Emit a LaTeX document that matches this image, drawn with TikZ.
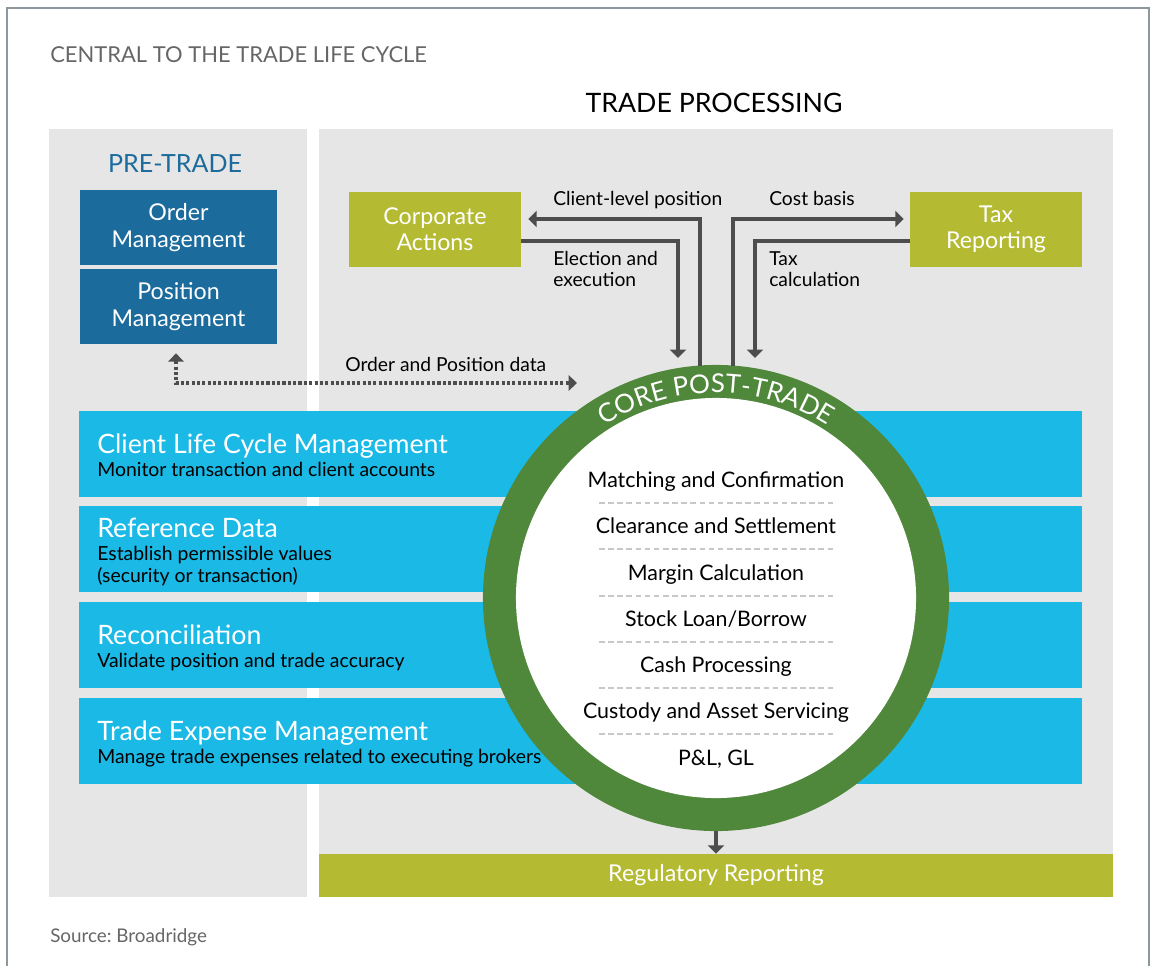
\documentclass[tikz,border=0pt]{standalone}
\usepackage{fontspec}
\setmainfont{Lato}
\usetikzlibrary{arrows.meta,decorations.text}

\definecolor{panelgray}{HTML}{E6E6E6}
\definecolor{preblue}{HTML}{1B6B9C}
\definecolor{olivegreen}{HTML}{B5BA33}
\definecolor{barblue}{HTML}{1BB9E6}
\definecolor{ringgreen}{HTML}{4F873B}
\definecolor{arrowgray}{HTML}{4D4D4D}
\definecolor{titlegray}{HTML}{666666}
\definecolor{framegray}{HTML}{8E979C}
\definecolor{sepgray}{HTML}{C8C8C8}

\tikzset{
  bluebox/.style={fill=preblue, text=white, inner sep=0, minimum width=4.925cm, minimum height=1.875cm,
    align=center, font=\fontsize{16.5}{19}\selectfont},
  olivebox/.style={fill=olivegreen, text=white, inner sep=0, minimum width=4.3cm, minimum height=1.875cm,
    align=center, font=\fontsize{16.5}{18.5}\selectfont},
  barhead/.style={anchor=base west, text=white, inner sep=0, font=\fontsize{19}{22}\selectfont},
  barsub/.style={anchor=base west, text=black, inner sep=0, align=left, font=\fontsize{13.8}{15}\selectfont},
  item/.style={anchor=base, inner sep=0, font=\fontsize{15.2}{17}\selectfont},
  label/.style={anchor=base west, inner sep=0, align=left, font=\fontsize{13.7}{15}\selectfont},
  flow/.style={draw=arrowgray, line width=2.85pt, -{Triangle[length=6pt,width=11.5pt]}},
  dataflow/.style={draw=arrowgray, line width=2.4pt, dash pattern=on 2.2pt off 1.6pt,
    {Triangle[length=6pt,width=11pt]}-{Triangle[length=6pt,width=11pt]}},
  sep/.style={draw=sepgray, line width=1.2pt, dash pattern=on 4pt off 2.5pt}
}

\begin{document}
\frenchspacing
\begin{tikzpicture}[x=0.025cm, y=-0.025cm]
    \useasboundingbox (0,0) rectangle (1152,966);
    \draw[framegray, line width=1.4pt] (7,966) -- (7,8) -- (1149,8) -- (1149,966);

    % backgrounds
    \fill[panelgray] (49,129) rectangle (307,897);
    \fill[panelgray] (319,129) rectangle (1113,854);
    \foreach \y in {411,506,602,698}
        \fill[barblue] (79,\y) rectangle (1082,\y+86);

    \node[anchor=base west, inner sep=0, text=titlegray, font=\fontsize{15.6}{18}\selectfont] (title) at (50,63) {CENTRAL TO THE TRADE LIFE CYCLE};
    \node[anchor=base, inner sep=0, font=\fontsize{19}{22}\selectfont] (tp) at (714,113) {TRADE PROCESSING};
    \node[anchor=base, inner sep=0, text=preblue, font=\fontsize{17.8}{20}\selectfont] (pre) at (175,173) {PRE-TRADE};

    \node[bluebox] (om) at (178.5,227.5) {Order\\Management};
    \node[bluebox] (pm) at (178.5,306.5) {Position\\Management};
    \node[olivebox] (ca) at (435,229.5) {Corporate\\Actions};
    \node[olivebox] (tr) at (996,229.5) {Tax\\Reporting};

    \node[fill=olivegreen, text=white, inner sep=0, minimum width=19.85cm, minimum height=1.075cm,
        font=\fontsize{16.5}{18}\selectfont] (reg) at (716,875.5) {Regulatory Reporting};

    % bars on the left
    \node[barhead] (clm) at (97,453) {Client Life Cycle Management};
    \node[barsub] (clmsub) at (97,476) {Monitor transaction and client accounts};
    \node[barhead] (refdata) at (97,537) {Reference Data};
    \node[barsub] (refsub) at (97,582) {Establish permissible values\\(security or transaction)};
    \node[barhead] (recon) at (97,644) {Reconciliation};
    \node[barsub] (reconsub) at (97,667) {Validate position and trade accuracy};
    \node[barhead] (tem) at (97,740) {Trade Expense Management};
    \node[barsub] (temsub) at (97,763) {Manage trade expenses related to executing brokers};

    % core post-trade ring
    \node[circle, fill=ringgreen, inner sep=0, minimum size=11.65cm] (core) at (716,598) {};
    \node[circle, fill=white, inner sep=0, minimum size=10cm] (inner) at (core) {};
    \path[decorate, decoration={text along path, text align=center,
        text={|\color{white}\fontsize{18.5}{22}\selectfont|CORE POST-TRADE}}]
        (core.center) ++(150:5.13cm) arc[start angle=150, end angle=30, radius=5.13cm];

    \foreach \y/\t in {487/Matching and Confirmation, 533/Clearance and Settlement, 580/Margin Calculation,
        626/{Stock Loan/Borrow}, 672/Cash Processing, 718/Custody and Asset Servicing, 765/{P\&L, GL}}
        \node[item] at (716,\y) {\t};
    \foreach \y in {503,549,596,642,688,734}
        \draw[sep] (599,\y) -- (835,\y);

    % connectors
    \coordinate (elecend) at (678,358);
    \coordinate (taxend) at (755,358);
    \coordinate (odend) at (577,383);
    \draw[flow] ([shift={(-16,1)}]core.north) |- ([shift={(7,-10.5)}]ca.east);
    \draw[flow] ([shift={(0,11.5)}]ca.east) -| (elecend);
    \draw[flow] ([shift={(17,1)}]core.north) |- ([shift={(-6,-10.5)}]tr.west);
    \draw[flow] ([shift={(0,11.5)}]tr.west) -| (taxend);
    \draw[flow] (core.south) -- (reg.north);
    \draw[dataflow] ([shift={(-2.5,9)}]pm.south) |- (odend);

    \node[label] (clp) at (553,205) {Client-level position};
    \node[label, anchor=north west] (elec) at (553,251) {Election and\\execution};
    \node[label] (cb) at (769,205) {Cost basis};
    \node[label, anchor=north west] (taxc) at (769,251) {Tax\\calculation};
    \node[label] (opd) at (345,371) {Order and Position data};

    \node[anchor=base west, inner sep=0, text=titlegray, font=\fontsize{13.4}{15}\selectfont] (src) at (50,942) {Source: Broadridge};
\end{tikzpicture}
\end{document}
